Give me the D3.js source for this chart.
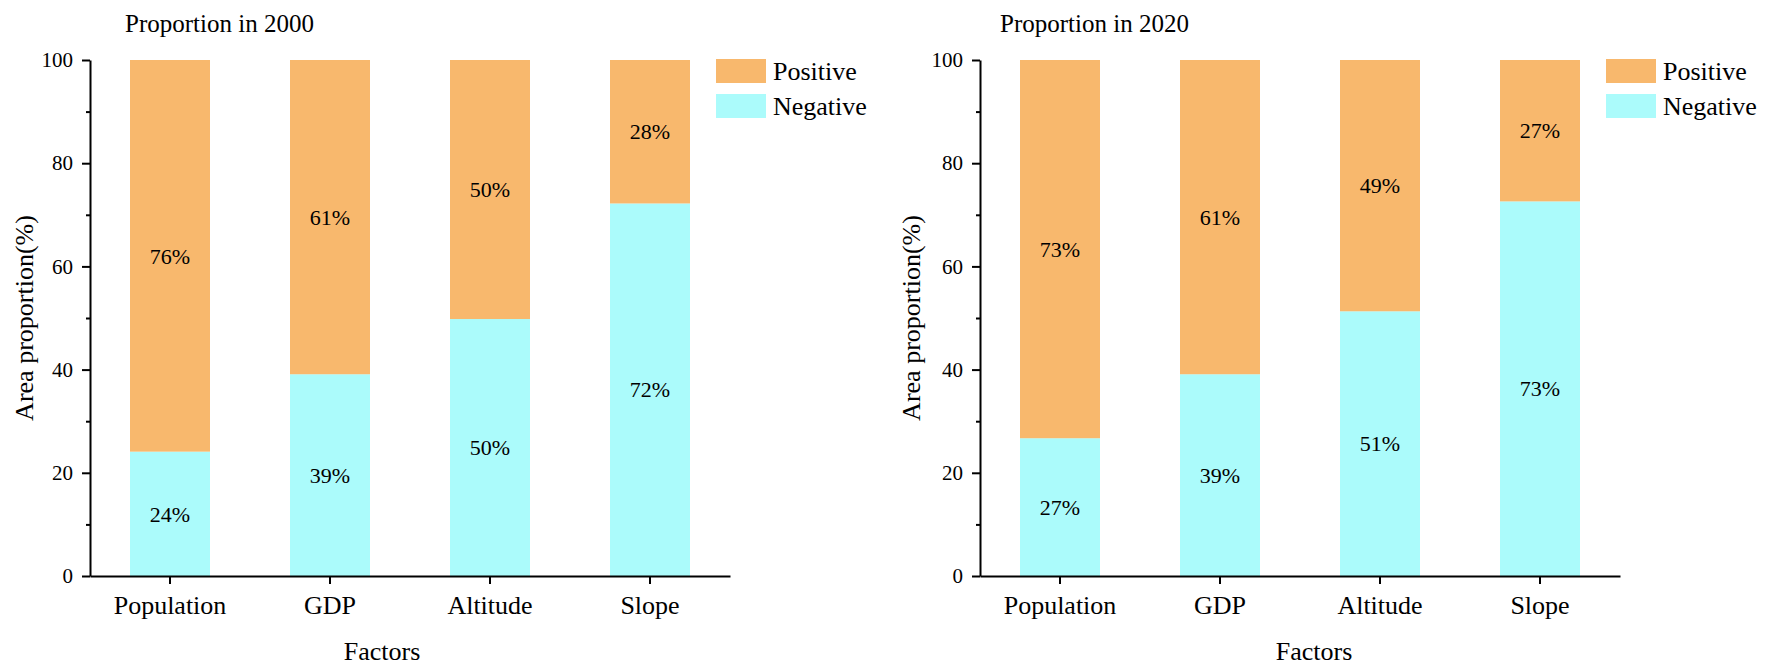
<!DOCTYPE html>
<html>
<head>
<meta charset="utf-8">
<script src="https://cdn.jsdelivr.net/npm/d3@7"></script>
<style>
  body { margin: 0; background: #fff; }
  svg { display: block; }
  svg text { font-family: "Liberation Serif", "Times New Roman", serif; fill: #000; }
  .axis path, .axis line { stroke: #000; stroke-width: 2px; }
</style>
</head>
<body>
<svg id="chart" width="1772" height="669"></svg>
<script>
// values
var factors = ["Population", "GDP", "Altitude", "Slope"];
var seriesNames = ["Negative", "Positive"];
var negative2000 = [24.1, 39.1, 49.8, 72.2];
var positive2000 = [75.9, 60.9, 50.2, 27.8];
var negative2020 = [26.7, 39.1, 51.3, 72.6];
var positive2020 = [73.3, 60.9, 48.7, 27.4];
var yTicks = [0, 20, 40, 60, 80, 100];
var yMinorTicks = [10, 30, 50, 70, 90];

var colors = { Positive: "#f8b86d", Negative: "#abfbfb" };
var font = "Liberation Serif, Times New Roman, serif";

var svg = d3.select("#chart");

function drawPanel(opts) {
    var rows = factors.map(function(f, i) {
        return { factor: f, Negative: opts.negative[i], Positive: opts.positive[i] };
    });

    var x = d3.scaleBand()
        .domain(factors)
        .range([opts.left, opts.left + 640])
        .paddingInner(0.5)
        .paddingOuter(0.25);

    var y = d3.scaleLinear()
        .domain([0, 100])
        .range([576, 60]);

    var stack = d3.stack().keys(seriesNames)(rows);

    var g = svg.append("g");

    // bars
    var layer = g.selectAll("g.layer")
        .data(stack)
        .join("g")
        .attr("class", "layer")
        .attr("fill", function(d) { return colors[d.key]; });

    layer.selectAll("rect")
        .data(function(d) { return d; })
        .join("rect")
        .attr("x", function(d) { return x(d.data.factor); })
        .attr("width", x.bandwidth())
        .attr("y", function(d) { return y(d[1]); })
        .attr("height", function(d) { return y(d[0]) - y(d[1]); });

    // percentage labels in the middle of each segment
    layer.selectAll("text")
        .data(function(d) { return d; })
        .join("text")
        .attr("x", function(d) { return x(d.data.factor) + x.bandwidth() / 2; })
        .attr("y", function(d) { return y((d[0] + d[1]) / 2); })
        .attr("dy", "0.35em")
        .attr("text-anchor", "middle")
        .attr("font-family", font)
        .style("font-size", "22px")
        .text(function(d) { return Math.round(d[1] - d[0]) + "%"; });

    // minor y ticks
    g.append("g")
        .attr("class", "axis")
        .attr("transform", "translate(" + opts.left + ",0)")
        .call(d3.axisLeft(y).tickValues(yMinorTicks).tickSize(4).tickFormat(""))
        .call(function(s) { s.select(".domain").remove(); });

    // major y axis
    g.append("g")
        .attr("class", "axis")
        .attr("transform", "translate(" + opts.left + ",0)")
        .call(d3.axisLeft(y).tickValues(yTicks).tickSize(8).tickSizeOuter(0).tickPadding(9))
        .attr("font-family", font)
        .attr("font-size", 21);

    // x axis
    g.append("g")
        .attr("class", "axis")
        .attr("transform", "translate(0,576)")
        .call(d3.axisBottom(x).tickSize(8).tickSizeOuter(0).tickPadding(12))
        .attr("font-family", font)
        .attr("font-size", 26);

    // title
    g.append("text")
        .attr("x", opts.titleX)
        .attr("y", 32)
        .attr("font-family", font)
        .style("font-size", "25px")
        .text(opts.title);

    // axis titles
    g.append("text")
        .attr("transform", "translate(" + opts.yLabelX + ",318) rotate(-90)")
        .attr("text-anchor", "middle")
        .attr("dy", "0.35em")
        .attr("font-family", font)
        .style("font-size", "26px")
        .text("Area proportion(%)");

    g.append("text")
        .attr("x", opts.xLabelX)
        .attr("y", 660)
        .attr("text-anchor", "middle")
        .attr("font-family", font)
        .style("font-size", "26px")
        .text("Factors");

    // legend
    var legend = g.append("g")
        .attr("transform", "translate(" + opts.legendX + ",59)");
    var items = legend.selectAll("g")
        .data(["Positive", "Negative"])
        .join("g")
        .attr("transform", function(d, i) { return "translate(0," + (i * 35) + ")"; });
    items.append("rect")
        .attr("width", 50)
        .attr("height", 24)
        .attr("fill", function(d) { return colors[d]; });
    items.append("text")
        .attr("x", 57)
        .attr("y", 12)
        .attr("dy", "0.35em")
        .attr("font-family", font)
        .style("font-size", "26px")
        .text(function(d) { return d; });
}

drawPanel({
    left: 90, title: "Proportion in 2000", titleX: 125,
    negative: negative2000, positive: positive2000,
    yLabelX: 24, xLabelX: 382, legendX: 716
});

drawPanel({
    left: 980, title: "Proportion in 2020", titleX: 1000,
    negative: negative2020, positive: positive2020,
    yLabelX: 911, xLabelX: 1314, legendX: 1606
});
</script>
</body>
</html>
